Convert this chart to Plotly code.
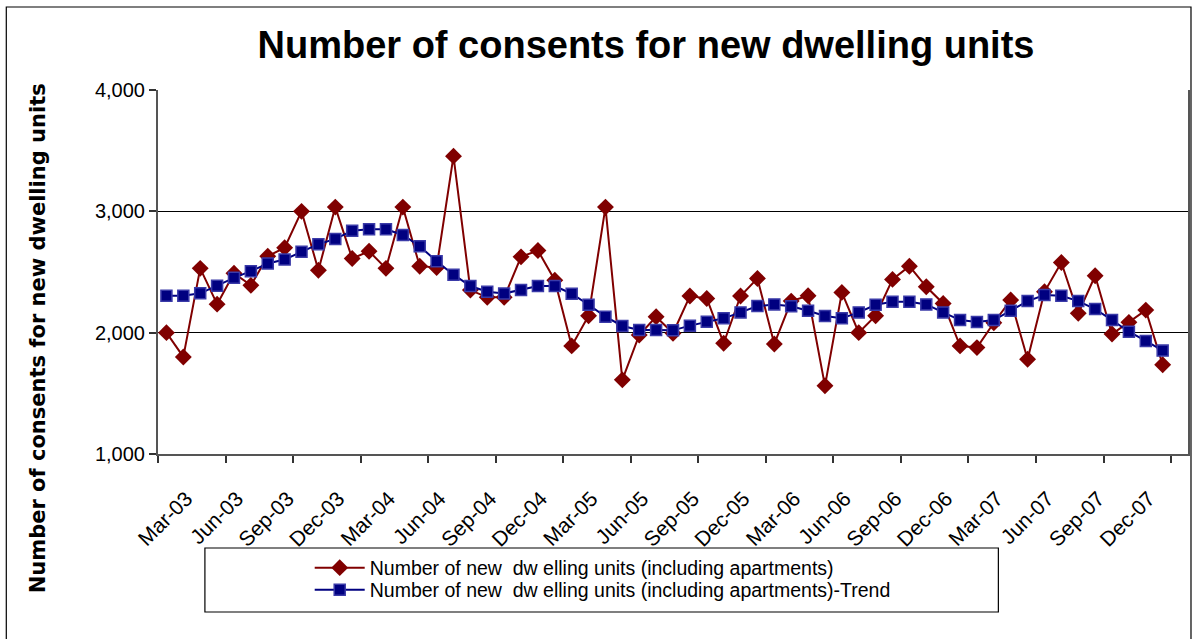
import plotly.graph_objects as go

# ---- data ----
months = ["Mar-03","Apr-03","May-03","Jun-03","Jul-03","Aug-03","Sep-03","Oct-03","Nov-03","Dec-03",
          "Jan-04","Feb-04","Mar-04","Apr-04","May-04","Jun-04","Jul-04","Aug-04","Sep-04","Oct-04","Nov-04","Dec-04",
          "Jan-05","Feb-05","Mar-05","Apr-05","May-05","Jun-05","Jul-05","Aug-05","Sep-05","Oct-05","Nov-05","Dec-05",
          "Jan-06","Feb-06","Mar-06","Apr-06","May-06","Jun-06","Jul-06","Aug-06","Sep-06","Oct-06","Nov-06","Dec-06",
          "Jan-07","Feb-07","Mar-07","Apr-07","May-07","Jun-07","Jul-07","Aug-07","Sep-07","Oct-07","Nov-07","Dec-07",
          "Jan-08","Feb-08"]

units = [2000, 1800, 2530, 2235, 2490, 2390, 2630, 2700, 3000, 2515,
         3035, 2611, 2671, 2530, 3035, 2548, 2537, 3455, 2351, 2291, 2291, 2625,
         2677, 2433, 1891, 2140, 3035, 1611, 1981, 2131, 1995, 2302, 2282, 1913,
         2302, 2447, 1907, 2260, 2304, 1562, 2332, 2000, 2140, 2439, 2548, 2378,
         2241, 1891, 1877, 2082, 2269, 1781, 2337, 2578, 2159, 2469, 1989, 2085,
         2186, 1735]

trend = [2305, 2305, 2324, 2386, 2452, 2507, 2570, 2603, 2666, 2729,
         2773, 2840, 2852, 2852, 2805, 2712, 2589, 2478, 2384, 2337, 2323, 2351,
         2384, 2384, 2321, 2230, 2132, 2055, 2022, 2022, 2019, 2058, 2090, 2118,
         2167, 2219, 2233, 2217, 2181, 2137, 2118, 2167, 2230, 2255, 2255, 2233,
         2167, 2104, 2088, 2104, 2181, 2260, 2310, 2304, 2260, 2195, 2104, 2008,
         1932, 1852]

tick_labels = ["Mar-03","Jun-03","Sep-03","Dec-03","Mar-04","Jun-04","Sep-04","Dec-04",
               "Mar-05","Jun-05","Sep-05","Dec-05","Mar-06","Jun-06","Sep-06","Dec-06",
               "Mar-07","Jun-07","Sep-07","Dec-07"]

series_names = ["Number of new  dw elling units (including apartments)",
                "Number of new  dw elling units (including apartments)-Trend"]

y_title = "Number of consents for new dwelling units"
chart_title = "Number of consents for new dwelling units"

# ---- figure ----
x_idx = list(range(len(months)))
tick_pos = [months.index(m) for m in tick_labels]

W, H = 1198, 639
L, R, T, B = 158, 8, 90, 185
pw, ph = W - L - R, H - T - B

def px(x):
    return (x - L) / pw

def py(y):
    return (H - B - y) / ph

font_main = "Liberation Sans, Arial, sans-serif"

fig = go.Figure()
fig.add_trace(go.Scatter(
    x=x_idx, y=units, mode="lines+markers", name=series_names[0], legend="legend",
    line=dict(color="#800000", width=2),
    marker=dict(symbol="diamond", size=13, color="#800000", line=dict(color="#800000", width=0)),
))
fig.add_trace(go.Scatter(
    x=x_idx, y=trend, mode="lines+markers", name=series_names[1], legend="legend2",
    line=dict(color="#000080", width=2),
    marker=dict(symbol="square", size=11, color="#000080", line=dict(color="#3a3aa8", width=1.5)),
))

leg_common = dict(xanchor="left", yanchor="middle", bgcolor="rgba(0,0,0,0)", borderwidth=0,
                  itemwidth=50, font=dict(family=font_main, size=19.5, color="black"))

fig.update_layout(
    width=W, height=H,
    margin=dict(l=L, r=R, t=T, b=B),
    paper_bgcolor="white", plot_bgcolor="white",
    showlegend=True,
    title=dict(text="<b>" + chart_title + "</b>", xref="container", yref="container",
               x=646 / W, y=1 - 45 / H, xanchor="center", yanchor="middle",
               font=dict(family=font_main, size=38, color="black")),
    font=dict(family=font_main, color="black"),
    legend=dict(x=px(310), y=py(568), **leg_common),
    legend2=dict(x=px(310), y=py(590), **leg_common),
)

fig.update_xaxes(
    range=[-0.5, len(months) + 0.5],
    tickmode="array", tickvals=tick_pos, ticktext=tick_labels,
    tickangle=-45, ticks="", tickfont=dict(family=font_main, size=21, color="black"),
    ticklabelstandoff=22, ticklabelshift=20,
    showgrid=False, zeroline=False,
    showline=True, linecolor="#555555", linewidth=2,
    minor=dict(tickmode="linear", tick0=-0.5, dtick=4, ticks="outside", ticklen=7,
               tickcolor="#333333", tickwidth=1.5, showgrid=False),
)
fig.update_yaxes(
    range=[1000, 4000], tickmode="linear", tick0=1000, dtick=1000, tickformat=",",
    ticks="outside", ticklen=7, tickcolor="#333333", tickwidth=1.5,
    tickfont=dict(family=font_main, size=20, color="black"),
    showgrid=True, gridcolor="black", gridwidth=1, zeroline=False,
    showline=True, linecolor="#555555", linewidth=2, mirror=True,
)

# y-axis title
fig.add_annotation(text="<b>" + y_title + "</b>", xref="paper", yref="paper",
                   x=px(38), y=py(338), textangle=-90, showarrow=False,
                   xanchor="center", yanchor="middle",
                   font=dict(family="DejaVu Sans, Verdana, sans-serif", size=21, color="black"))

# legend frame and chart frame
fig.add_shape(type="rect", xref="paper", yref="paper",
              x0=px(205), x1=px(1000), y0=py(612), y1=py(548),
              line=dict(color="black", width=1.2), fillcolor="rgba(0,0,0,0)", layer="above")
fig.add_shape(type="rect", xref="paper", yref="paper",
              x0=px(6), x1=px(1193), y0=py(660), y1=py(7),
              line=dict(color="black", width=1.2), fillcolor="rgba(0,0,0,0)", layer="below")

fig.write_html("out.html")
